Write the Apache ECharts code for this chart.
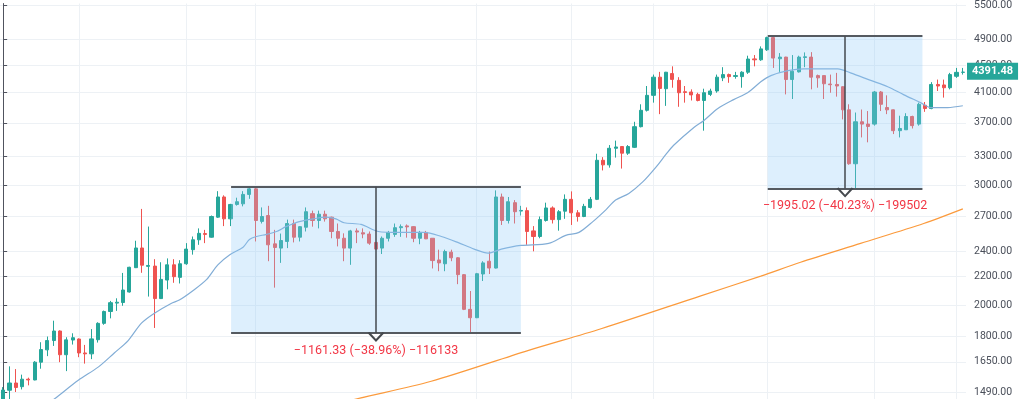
<!DOCTYPE html>
<html>
<head>
<meta charset="utf-8">
<script src="https://cdn.jsdelivr.net/npm/echarts@6/dist/echarts.min.js"></script>
<style>
  html, body { margin: 0; padding: 0; background: #fff; }
  #chart { width: 1024px; height: 399px; }
</style>
</head>
<body>
<div id="chart"></div>
<script>
// candle prices (one entry per bar)
const openP = [1440,1499,1536,1517,1556,1552,1648,1718,1773,1831,1690,1776,1782,1700,1695,1778,1879,1956,2012,2016,
  2089,2268,2424,2278,2280,2043,2175,2290,2195,2298,2410,2492,2545,2514,2690,2880,2675,2808,2814,2905,
  2960,2652,2705,2458,2423,2478,2633,2514,2600,2722,2660,2717,2690,2563,2505,2423,2568,2552,2541,2470,
  2423,2505,2538,2596,2612,2605,2505,2555,2505,2328,2298,2390,2345,2215,1970,1915,2220,2318,2265,2880,
  2660,2825,2746,2750,2568,2520,2660,2775,2668,2745,2857,2730,2696,2780,2857,3260,3210,3395,3415,3339,
  3406,3652,3860,4060,4317,4152,4370,4271,4110,4106,4073,3990,4073,4120,4307,4355,4328,4325,4390,4592,
  4578,4735,4935,4594,4620,4283,4395,4614,4620,4340,4340,4218,4212,4180,3866,3222,3713,3684,3684,4106,
  3896,3866,3603,3614,3780,3684,3926,3883,4212,4205,4166,4330,4388];
const highP = [1515,1625,1610,1580,1564,1654,1763,1797,1896,1835,1793,1817,1786,1747,1843,1886,1962,2027,2045,2228,
  2275,2484,2766,2606,2334,2310,2340,2334,2326,2464,2520,2590,2577,2705,2937,2896,2814,2873,2937,2980,
  2981,2780,2795,2577,2545,2668,2668,2610,2780,2750,2750,2750,2695,2633,2547,2577,2590,2590,2563,2472,
  2520,2568,2633,2625,2625,2610,2568,2568,2505,2410,2410,2410,2350,2220,2096,2228,2318,2395,2945,2913,
  2880,2850,2795,2780,2610,2696,2825,2790,2755,2905,2935,2755,2814,2880,3333,3295,3432,3484,3420,3432,
  3713,3939,4190,4355,4395,4395,4478,4317,4190,4143,4096,4152,4152,4355,4465,4370,4395,4405,4642,4652,
  4790,4950,4959,4683,4625,4652,4642,4694,4698,4355,4340,4355,4380,4185,3939,3831,3870,3850,4120,4120,
  4060,3870,3790,3822,3790,3961,3970,4245,4282,4282,4380,4454,4454];
const lowP = [1420,1455,1490,1503,1524,1550,1612,1682,1741,1648,1599,1749,1676,1640,1665,1761,1870,1911,1960,1994,
  2085,2265,2229,2057,1850,2040,2108,2155,2150,2290,2370,2450,2464,2510,2683,2610,2610,2797,2790,2862,
  2478,2633,2318,2120,2305,2423,2470,2478,2563,2605,2590,2650,2505,2437,2318,2290,2464,2505,2450,2413,
  2375,2478,2517,2517,2510,2472,2455,2498,2262,2241,2241,2318,2145,1965,1819.5,1913,2168,2220,2262,2620,
  2633,2633,2705,2450,2397,2505,2650,2633,2570,2675,2620,2650,2690,2770,2850,3150,3180,3290,3170,3320,
  3398,3643,3844,3961,3810,3918,4166,3906,3961,3990,3978,3603,4050,4096,4260,4236,4295,4166,4365,4478,
  4562,4718,4454,4395,4073,4010,4385,4465,4143,4166,4010,4096,4042,3743,3211,2964,3522,3464,3665,3850,
  3810,3562,3522,3612,3630,3665,3840,3874,4120,4029,4143,4307,4355];
const closeP = [1500,1536,1513,1556,1552,1648,1720,1773,1831,1690,1777,1790,1700,1695,1783,1879,1956,2015,2018,2103,
  2271,2424,2287,2285,2043,2180,2290,2200,2298,2415,2492,2547,2538,2696,2880,2675,2808,2834,2905,2960,
  2660,2696,2450,2428,2486,2633,2514,2605,2740,2660,2717,2675,2563,2505,2423,2568,2558,2541,2464,2415,
  2505,2555,2596,2605,2603,2505,2555,2500,2323,2305,2395,2345,2215,1970,1915,2222,2305,2265,2880,2660,
  2834,2740,2752,2563,2520,2668,2775,2668,2740,2857,2730,2696,2790,2857,3260,3210,3395,3410,3339,3415,
  3652,3860,4060,4317,4156,4390,4285,4096,4100,4066,3990,4096,4120,4317,4355,4325,4340,4390,4590,4578,
  4750,4935,4605,4620,4283,4405,4620,4625,4317,4307,4222,4208,4190,3866,3222,3713,3684,3655,4106,3939,
  3866,3603,3630,3780,3665,3939,3883,4212,4190,4166,4355,4388,4391.48];

// moving averages as (bar position, price)
const maIdx = [6.5,8.1,11.9,15.1,17.6,19.8,21.9,23.9,26.6,27.9,30.1,32.2,34.0,35.9,38.0,39.0,40.1,41.7,43.3,44.8,
  46.9,49.1,51.2,52.7,54.0,56.7,59.4,62.6,66.7,69.4,72.0,74.6,76.8,78.9,82.0,86.4,89.1,91.2,93.4,95.5,
  97.0,99.1,101.3,103.4,105.0,106.2,109.4,111.0,113.2,115.7,117.9,120.0,121.6,124.3,126.8,132.2,134.2,
  137.4,140.1,142.6,145.3,146.9,149.6,152.0];
const maVal = [1420,1455,1550,1622,1700,1773,1880,1943,2010,2033,2100,2178,2290,2370,2430,2495,2520,2538,2563,2605,
  2650,2675,2690,2675,2640,2625,2563,2555,2555,2520,2470,2415,2382,2415,2445,2462,2530,2555,2650,2760,
  2850,2915,3030,3186,3328,3430,3643,3730,3883,4002,4096,4250,4340,4413,4440,4440,4380,
  4270,4180,4070,3961,3896,3896,3920];
const ma200Idx = [53,55.9,67.8,83.1,94.7,110.5,120,126.3,135.8,145.8,152];
const ma200Val = [1430,1455,1545,1714,1845,2062,2204,2310,2462,2633,2766];

// axis
const priceTicks = [1490,1650,1800,2000,2200,2400,2700,3000,3300,3700,4100,4500,4900,5500];
const yMin = 1455.2, yMax = 5536.9;
const gridCols = [12,29,40,75,90,103,121,138,151];
const lastPrice = 4391.48;

// measure boxes
const boxFrom = [36.1, 121.1];
const boxTo = [82.0, 145.6];
const boxTop = [2980.81, 4959.04];
const boxBottom = [1819.48, 2964.02];
const boxText = ['\u22121161.33 (\u221238.96%) \u2212116133', '\u22121995.02 (\u221240.23%) \u2212199502'];

const L = Math.log;
const UP = '#26a69a', DOWN = '#ef5350';
const chevron = 'path://M0,8 L5,0 L10,8 L8.8,8.9 L5,2.5 L1.2,8.9 Z M5,16 L5.01,16 L5,16.01 Z';

let myChart = echarts.init(document.getElementById('chart'));

const cats = openP.map((v, i) => String(i));
const candles = openP.map((o, i) => [L(o), L(closeP[i]), L(lowP[i]), L(highP[i])]);

let areaData = [], edgeData = [], textData = [];
boxFrom.forEach((x0, k) => {
  const x1 = boxTo[k], top = L(boxTop[k]), bot = L(boxBottom[k]), mid = (x0 + x1) / 2;
  areaData.push([{xAxis: x0, yAxis: top}, {xAxis: x1, yAxis: bot}]);
  const edge = {color: '#555a60', width: 2, type: 'solid'};
  edgeData.push([{coord: [x0, top], symbol: 'none', lineStyle: edge}, {coord: [x1, top], symbol: 'none'}]);
  edgeData.push([{coord: [x0, bot], symbol: 'none', lineStyle: edge}, {coord: [x1, bot], symbol: 'none'}]);
  edgeData.push([
    {coord: [mid, top], symbol: 'none', lineStyle: {color: '#45494e', width: 1.5, type: 'solid'}},
    {coord: [mid, bot], symbol: chevron, symbolSize: [17, 18]}
  ]);
  textData.push({name: boxText[k], coord: [mid, bot]});
});

let option = {
  animation: false,
  grid: {left: -1.5, right: 58, top: 0, bottom: 0},
  xAxis: [
    {type: 'category', data: cats, boundaryGap: true, show: false},
    {type: 'value', min: -0.5, max: openP.length - 0.5, show: false}
  ],
  yAxis: {
    type: 'value',
    position: 'right',
    min: L(yMin),
    max: L(yMax),
    axisLine: {show: true, lineStyle: {color: '#50535e', width: 1}},
    axisTick: {show: true, length: 4, customValues: priceTicks.map(L), lineStyle: {color: '#50535e'}},
    axisLabel: {
      customValues: priceTicks.map(L),
      formatter: v => Math.exp(v).toFixed(2),
      color: '#4a4f5a',
      fontSize: 10.5,
      fontFamily: 'Roboto, sans-serif',
      margin: 8
    },
    splitLine: {show: true, lineStyle: {color: '#edf1f5', width: 1}}
  },
  series: [
    {
      type: 'candlestick',
      z: 2,
      data: candles,
      barWidth: 3.6,
      itemStyle: {color: UP, color0: DOWN, borderColor: UP, borderColor0: DOWN, borderWidth: 1},
      markLine: {
        silent: true,
        symbol: 'none',
        z: 8,
        lineStyle: {width: 0, color: 'transparent'},
        label: {
          show: true,
          position: 'end',
          distance: 1,
          formatter: lastPrice.toFixed(2),
          backgroundColor: UP,
          color: '#fff',
          fontSize: 11,
          fontWeight: 'bold',
          fontFamily: 'Roboto, sans-serif',
          padding: [3, 5, 3, 5]
        },
        data: [{yAxis: L(lastPrice)}]
      }
    },
    {
      type: 'line',
      xAxisIndex: 1,
      z: 3,
      smooth: 0.3,
      symbol: 'none',
      data: maIdx.map((x, i) => [x, L(maVal[i])]),
      lineStyle: {color: '#82add6', width: 1.2},
      markArea: {
        silent: true,
        z: 5,
        itemStyle: {color: 'rgba(144,202,249,0.3)'},
        data: areaData
      },
      markLine: {
        silent: true,
        z: 6,
        label: {show: false},
        data: edgeData
      },
      markPoint: {
        silent: true,
        z: 6,
        symbol: 'circle',
        symbolSize: 0,
        label: {
          show: true,
          position: 'bottom',
          distance: 11,
          formatter: '{b}',
          color: '#f23645',
          fontSize: 12.5,
          fontFamily: 'Roboto, sans-serif'
        },
        data: textData
      }
    },
    {
      type: 'line',
      xAxisIndex: 1,
      z: 3,
      smooth: 0.3,
      symbol: 'none',
      data: ma200Idx.map((x, i) => [x, L(ma200Val[i])]),
      lineStyle: {color: '#fb9a3c', width: 1.2},
      markLine: {
        silent: true,
        z: 1,
        symbol: 'none',
        label: {show: false},
        lineStyle: {color: '#edf1f5', width: 1, type: 'solid'},
        data: gridCols.map(x => ({xAxis: x}))
      }
    }
  ]
};
myChart.setOption(option);
</script>
</body>
</html>
